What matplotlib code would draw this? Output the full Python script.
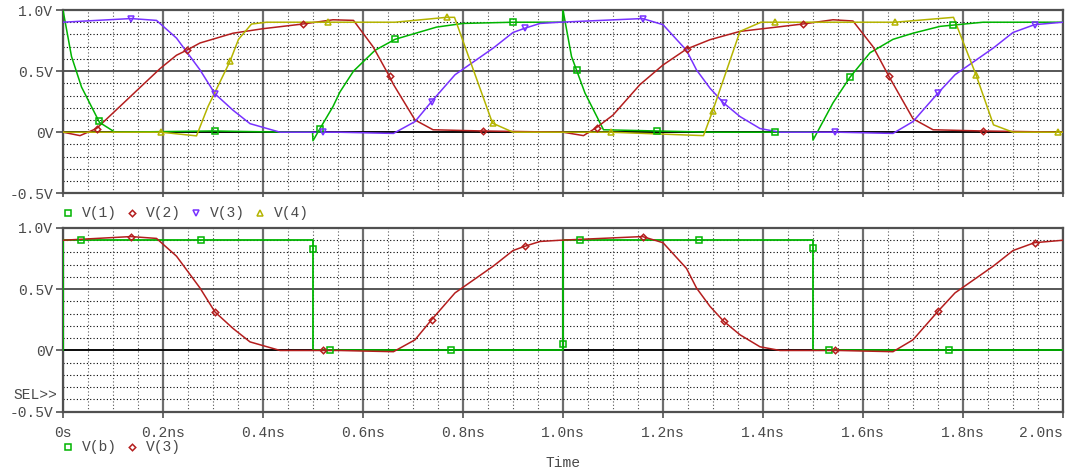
import numpy as np
import matplotlib.pyplot as plt
from matplotlib.lines import Line2D

plt.rcParams['font.family'] = ['Liberation Mono', 'DejaVu Sans Mono']

# transient traces (time in ns, volts)
t1 = [0, 0.017, 0.037, 0.073, 0.104, 0.3, 0.45, 0.499, 0.5, 0.514, 0.54, 0.554, 0.581, 0.624,
      0.664, 0.747, 0.8, 0.9, 0.999, 1.0, 1.017, 1.044, 1.081, 1.187, 1.3, 1.45, 1.499, 1.5,
      1.54, 1.574, 1.614, 1.66, 1.70, 1.754, 1.84, 2.0]
v1 = [1.0, 0.62, 0.37, 0.08, 0.0, 0.01, 0.0, 0.0, -0.07, 0.03, 0.21, 0.33, 0.50, 0.67,
      0.76, 0.86, 0.89, 0.90, 0.90, 1.0, 0.62, 0.32, 0.02, 0.01, 0.0, 0.0, 0.0, -0.065,
      0.24, 0.45, 0.65, 0.76, 0.81, 0.866, 0.90, 0.90]

t2 = [0, 0.034, 0.067, 0.194, 0.227, 0.247, 0.274, 0.34, 0.40, 0.479, 0.54, 0.581, 0.62,
      0.653, 0.661, 0.704, 0.74, 0.839, 1.0, 1.041, 1.067, 1.10, 1.154, 1.20, 1.247, 1.294,
      1.354, 1.479, 1.54, 1.58, 1.62, 1.652, 1.70, 1.74, 1.839, 2.0]
v2 = [0, -0.028, 0.03, 0.52, 0.63, 0.67, 0.73, 0.81, 0.847, 0.885, 0.92, 0.915, 0.70,
      0.456, 0.39, 0.10, 0.02, 0.01, 0.0, -0.028, 0.038, 0.14, 0.39, 0.55, 0.68, 0.757,
      0.825, 0.885, 0.92, 0.91, 0.70, 0.456, 0.11, 0.02, 0.01, 0.0]

t3 = [0, 0.136, 0.187, 0.227, 0.274, 0.304, 0.34, 0.374, 0.434, 0.55, 0.661, 0.704, 0.737,
      0.784, 0.861, 0.9, 0.923, 0.954, 0.994, 1.159, 1.20, 1.247, 1.267, 1.294, 1.321, 1.354,
      1.394, 1.434, 1.55, 1.66, 1.70, 1.75, 1.784, 1.861, 1.90, 1.943, 2.0]
v3 = [0.9, 0.93, 0.915, 0.77, 0.51, 0.314, 0.18, 0.07, 0.0, 0.0, -0.01, 0.087, 0.25,
      0.47, 0.69, 0.816, 0.85, 0.89, 0.90, 0.93, 0.88, 0.67, 0.51, 0.36, 0.24, 0.128,
      0.03, 0.0, 0.0, -0.01, 0.087, 0.32, 0.47, 0.69, 0.816, 0.88, 0.90]

t4 = [0, 0.196, 0.267, 0.29, 0.334, 0.351, 0.377, 0.407, 0.529, 0.664, 0.767, 0.783, 0.859,
      0.9, 1.0, 1.095, 1.281, 1.299, 1.354, 1.396, 1.424, 1.664, 1.781, 1.826, 1.861, 1.90, 2.0]
v4 = [0, 0, -0.03, 0.21, 0.58, 0.76, 0.885, 0.90, 0.90, 0.90, 0.94, 0.94, 0.074,
      0.0, 0.0, 0.0, -0.028, 0.17, 0.825, 0.90, 0.90, 0.90, 0.94, 0.47, 0.06, 0.0, 0.0]

# input pulse V(b)
tb = [0, 0, 0.5, 0.5, 1.0, 1.0, 1.5, 1.5, 2.0]
vb = [0, 0.9, 0.9, 0, 0, 0.9, 0.9, 0, 0]

# where the probe symbols sit along each trace
m1 = [0.072, 0.304, 0.514, 0.664, 0.9, 1.027, 1.187, 1.424, 1.574, 1.779]
m2 = [0.067, 0.247, 0.479, 0.653, 0.839, 1.067, 1.247, 1.479, 1.652, 1.839]
m3 = [0.136, 0.304, 0.52, 0.737, 0.923, 1.159, 1.321, 1.543, 1.75, 1.943]
m4 = [0.196, 0.334, 0.529, 0.767, 0.859, 1.095, 1.299, 1.424, 1.664, 1.826, 1.99]
mb_t = [0.036, 0.275, 0.499, 0.534, 0.775, 1.0, 1.034, 1.272, 1.499, 1.531, 1.772]
mb_v = [0.9, 0.9, 0.83, 0.0, 0.0, 0.05, 0.9, 0.9, 0.84, 0.0, 0.0]

x_ticks = [0, 0.2, 0.4, 0.6, 0.8, 1.0, 1.2, 1.4, 1.6, 1.8, 2.0]
x_labels = ['0s', '0.2ns', '0.4ns', '0.6ns', '0.8ns', '1.0ns', '1.2ns', '1.4ns', '1.6ns', '1.8ns', '2.0ns']
y_ticks = [-0.5, 0, 0.5, 1.0]
y_labels = ['-0.5V', '0V', '0.5V', '1.0V']

GREEN = '#00b400'
RED = '#b41e1e'
PURPLE = '#7832ff'
YELLOW = '#b4b400'
TXT = '#4a4a4a'
FS = 10.5

W, H = 1070, 474
fig = plt.figure(figsize=(W / 100, H / 100), dpi=100)
ax1 = fig.add_axes([63 / W, 1 - 193.3 / H, 1000 / W, 183.3 / H])
ax2 = fig.add_axes([63 / W, 1 - 411.7 / H, 1000 / W, 183.7 / H])


def style_axes(ax, labels):
    ax.set_xlim(0, 2.0)
    ax.set_ylim(-0.5, 1.0)
    ax.set_xticks(x_ticks)
    ax.set_yticks(y_ticks)
    ax.set_yticklabels(y_labels, color=TXT, fontsize=FS)
    ax.set_xticks([x for x in np.arange(0.05, 2.0, 0.05) if round(x / 0.2, 3) % 1 != 0], minor=True)
    ax.set_yticks([-0.4, -0.3, -0.2, -0.1, 0.1, 0.2, 0.3, 0.4, 0.6, 0.7, 0.8, 0.9], minor=True)
    if labels:
        ax.set_xticklabels(x_labels, color=TXT, fontsize=FS)
        ax.get_xticklabels()[-1].set_horizontalalignment('right')
        ax.tick_params(axis='x', which='major', length=4, width=1.2, color='#505050', pad=6)
    else:
        ax.set_xticklabels([])
        ax.tick_params(axis='x', which='major', length=3, width=1.2, color='#505050')
    ax.tick_params(axis='y', which='major', length=5, width=1.2, color='#505050', pad=2)
    ax.tick_params(which='minor', length=0)
    ax.xaxis.grid(True, which='major', color='#6e6e6e', lw=1.6)
    ax.yaxis.grid(True, which='major', color='#3a3a3a', lw=1.2)
    ax.xaxis.grid(True, which='minor', color='#555555', lw=0.8, ls=(0, (1, 2)))
    ax.yaxis.grid(True, which='minor', color='#000000', lw=0.8, ls=(0, (1, 2)))
    ax.axhline(0, color='black', lw=1.2, zorder=1.5)
    ax.set_axisbelow(True)
    for s in ax.spines.values():
        s.set_color('#505050')
        s.set_linewidth(1.6)


def trace(ax, t, v, marks, color, marker, ms):
    ax.plot(t, v, color=color, lw=1.1, zorder=3)
    ax.plot(marks, np.interp(marks, t, v), ls='none', marker=marker, ms=ms,
            mfc='none', mec=color, mew=1.1, zorder=4)


style_axes(ax1, False)
style_axes(ax2, True)

trace(ax1, t1, v1, m1, GREEN, 's', 4)
trace(ax1, t2, v2, m2, RED, 'D', 3.3)
trace(ax1, t3, v3, m3, PURPLE, 'v', 4.5)
trace(ax1, t4, v4, m4, YELLOW, '^', 4.5)

ax2.plot(tb, vb, color=GREEN, lw=1.3, zorder=3)
ax2.plot(mb_t, mb_v, ls='none', marker='s', ms=4, mfc='none', mec=GREEN, mew=1.1, zorder=4)
trace(ax2, t3, v3, m3, RED, 'D', 3.3)

# legends drawn the PSpice way: symbol + name, under each plot
legend_top = [('V(1)', GREEN, 's', 4), ('V(2)', RED, 'D', 3.3), ('V(3)', PURPLE, 'v', 4.5), ('V(4)', YELLOW, '^', 4.5)]
legend_bot = [('V(b)', GREEN, 's', 4), ('V(3)', RED, 'D', 3.3)]
for items, ypx in [(legend_top, 212.5), (legend_bot, 446.5)]:
    for i, (name, col, mk, ms) in enumerate(items):
        xm = 68 + 64 * i
        fig.add_artist(Line2D([xm / W], [1 - ypx / H], transform=fig.transFigure, ls='none',
                              marker=mk, ms=ms, mfc='none', mec=col, mew=1.1))
        fig.text((xm + 14) / W, 1 - ypx / H, name, color=TXT, fontsize=FS, ha='left', va='center')

fig.text(57 / W, 1 - 395 / H, 'SEL>>', color=TXT, fontsize=FS, ha='right', va='center')
fig.text(563 / W, 1 - 463 / H, 'Time', color=TXT, fontsize=FS, ha='center', va='center')

fig.savefig('out.png', dpi=100, facecolor='white')
